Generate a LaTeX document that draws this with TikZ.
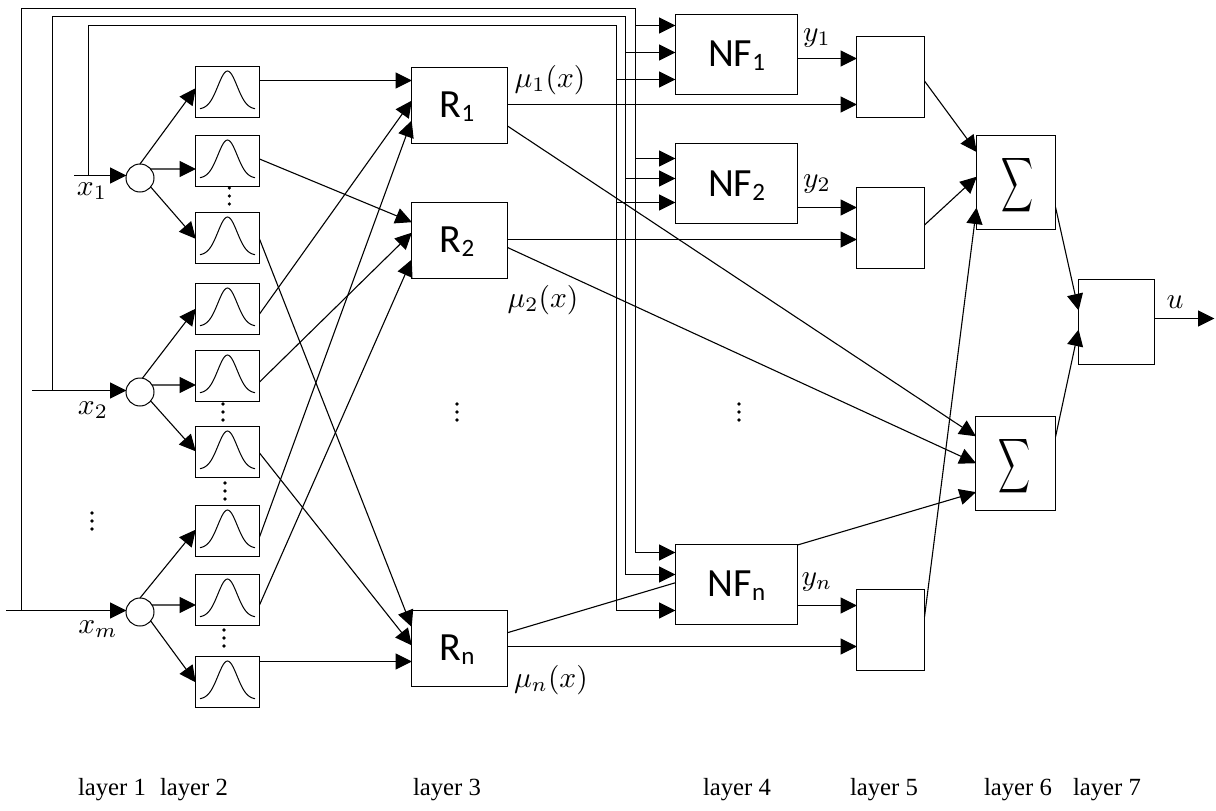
\documentclass[tikz,border=0pt]{standalone}
\usepackage{fontspec}
\setsansfont{Carlito}
\setmainfont{Liberation Serif}
\usetikzlibrary{arrows.meta}
\newcommand{\lsub}[1]{\raisebox{-0.1em}{\fontsize{25}{25}\selectfont #1}}
\newcommand{\boxtext}[2]{\raisebox{#1}[0pt][0pt]{#2}}
\newcommand{\vdotsat}[2]{\foreach \dd in {0,8,16}{\fill (#1,#2+\dd) circle (1.8);}}
\newcommand{\bigsum}{\boxtext{-12.5pt}{\resizebox{32pt}{40pt}{$\displaystyle\sum$}}}
\newcommand{\mlab}[1]{\scalebox{2.95}{$#1$}}
\tikzset{
  x=1pt,y=-1pt,
  wire/.style={line width=1.1pt},
  arr/.style={wire,-{Triangle[length=16.5pt,width=16pt]},shorten >=-0.5pt},
  rarr/.style={wire,{Triangle[length=16.5pt,width=16pt]}-},
  boxn/.style={draw,line width=1.1pt,rectangle,inner sep=0pt,outer sep=0pt},
  mfbox/.style={boxn,minimum width=64pt,minimum height=51pt},
  rbox/.style={boxn,minimum width=96pt,minimum height=76pt,font=\sffamily\fontsize{40}{40}\selectfont},
  nfbox/.style={boxn,minimum width=122pt,minimum height=80pt,font=\sffamily\fontsize{40}{40}\selectfont},
  pbox/.style={boxn,minimum width=68pt,minimum height=81pt},
  sumbox/.style={boxn,minimum width=79pt,minimum height=94pt},
  ubox/.style={boxn,minimum width=76pt,minimum height=85pt},
  split/.style={draw,line width=1pt,circle,minimum size=28pt,inner sep=0pt,outer sep=0pt},
  mlabel/.style={inner sep=0pt},
  laylabel/.style={inner sep=0pt,anchor=base,font=\rmfamily\fontsize{24.7}{24.7}\selectfont},
}
\begin{document}
\begin{tikzpicture}
\useasboundingbox (0,0) rectangle (1216,811);
% membership boxes
\foreach \nm/\yy in {g1/92,g2/161,g3/238,g4/309,g5/376,g6/452,g7/531,g8/600,g9/682}{
  \node[mfbox] (\nm) at (227.5,\yy) {};
  \draw[line width=1pt,smooth,samples=41,domain=-27.5:27.5,shift={(227.5,\yy)}]
    plot (\x,{17.3-38.3*exp(-(\x*\x)/(2*9.6*9.6))});
}
% splitters
\node[split] (c1) at (140,178) {};
\node[split] (c2) at (140,392) {};
\node[split] (c3) at (140,612) {};
% rule boxes
\node[rbox] (R1) at (459.5,105.5) {\boxtext{-11.5pt}{\kern-5pt R\lsub{1}}};
\node[rbox] (R2) at (459.5,240.5) {\boxtext{-11.5pt}{\kern-5pt R\lsub{2}}};
\node[rbox] (Rn) at (459.5,648.5) {\boxtext{-11.5pt}{\kern-5pt R\lsub{n}}};
% NF boxes
\node[nfbox] (NF1) at (736.5,54.5) {\boxtext{-12pt}{NF\lsub{1}}};
\node[nfbox] (NF2) at (736.5,183.5) {\boxtext{-13pt}{NF\lsub{2}}};
\node[nfbox] (NFn) at (736.5,584.5) {\boxtext{-12pt}{NF\lsub{n}}};
% product boxes
\node[pbox] (P1) at (890.5,77) {};
\node[pbox] (P2) at (890.5,228) {};
\node[pbox] (Pn) at (890.5,630) {};
% sum boxes
\node[sumbox] (S1) at (1016,182.5) {\kern3pt\bigsum};
\node[sumbox,minimum width=80pt] (S2) at (1015.5,463.5) {\kern-3pt\bigsum};
\node[ubox] (U) at (1116.5,322) {};
% free ends
\coordinate (in1) at (74,175.5);
\coordinate (in2) at (32,390.5);
\coordinate (in3) at (6,610.5);
\coordinate (t1) at (88.5,175.5);
\coordinate (t2) at (52.5,390.5);
\coordinate (t3) at (21.5,610.5);
\coordinate (b1) at (616.5,25.5);
\coordinate (b2) at (625.5,16.5);
\coordinate (b3) at (635.5,8.5);
\coordinate (out) at (1214,318.5);
% inputs
\draw[arr] (in1) -- ([yshift=2.5pt]c1.west);
\draw[arr] (in2) -- ([yshift=1.5pt]c2.west);
\draw[arr] (in3) -- ([yshift=1.5pt]c3.west);
% feedback buses
\draw[wire] (t1) |- (b1);
\draw[wire] (t2) |- (b2);
\draw[wire] (t3) |- (b3);
\draw[rarr] ([yshift=29pt]NF1.west) -| (b3);
\draw[rarr] ([yshift=2pt]NF1.west) -| (b2);
\draw[rarr] ([yshift=-25pt]NF1.west) -| (b1);
\draw[rarr] ([yshift=25pt]NF2.west) -| (b3);
\draw[rarr] ([yshift=5pt]NF2.west) -| (b2);
\draw[rarr] ([yshift=-19pt]NF2.west) -| (b1);
\draw[rarr] ([yshift=32pt]NFn.west) -| (b3);
\draw[rarr] ([yshift=10pt]NFn.west) -| (b2);
\draw[rarr] ([yshift=-26pt]NFn.west) -| (b1);
% splitter to membership
\draw[arr] (c1.north) -- ([yshift=3.5pt]g1.west);
\draw[arr] (c1.40) -- ([yshift=-8pt]g2.west);
\draw[arr] (c1.-40) -- ([yshift=-0.5pt]g3.west);
\draw[arr] (c2.80) -- (g4.west);
\draw[arr] (c2.30) -- ([yshift=-9pt]g5.west);
\draw[arr] (c2.-40) -- ([yshift=1pt]g6.west);
\draw[arr] (c3.north) -- ([yshift=1pt]g7.west);
\draw[arr] (c3.30) -- ([yshift=-5pt]g8.west);
\draw[arr] (c3.-40) -- (g9.west);
% membership to rules
\draw[arr] ([yshift=11.5pt]g1.east) -- ([yshift=25pt]R1.west);
\draw[arr] ([yshift=2pt]g2.east) -- ([yshift=18.5pt]R2.west);
\draw[arr] ([yshift=-1pt]g3.east) -- ([yshift=22pt]Rn.west);
\draw[arr] ([yshift=-5pt]g4.east) -- ([yshift=4.5pt]R1.west);
\draw[arr] ([yshift=-6pt]g5.east) -- ([yshift=7.5pt]R2.west);
\draw[arr] ([yshift=-1pt]g6.east) -- ([yshift=3.5pt]Rn.west);
\draw[arr] ([yshift=-6pt]g7.east) -- ([yshift=-15.5pt]R1.west);
\draw[arr] ([yshift=-5pt]g8.east) -- ([yshift=-19.5pt]R2.west);
\draw[arr] ([yshift=20.5pt]g9.east) -- ([yshift=-13pt]Rn.west);
% rules onwards
\draw[arr] ([yshift=1pt]R1.east) -- ([yshift=-27.5pt]P1.west);
\draw[arr] ([yshift=-20.5pt]R1.east) -- ([yshift=27.5pt]S2.west);
\draw[arr] ([yshift=1pt]R2.east) -- ([yshift=-11.5pt]P2.west);
\draw[arr] ([yshift=-7pt]R2.east) -- ([yshift=0.5pt]S2.west);
\draw[wire] ([yshift=15.8pt]Rn.east) -- ([yshift=1.8pt]NFn.west);
\draw[arr] ([yshift=39.5pt]NFn.east) -- ([yshift=-28.8pt]S2.west);
\draw[arr] ([yshift=2pt]Rn.east) -- ([yshift=-16.5pt]Pn.west);
% NF to products
\draw[arr] ([yshift=-4pt]NF1.east) -- ([yshift=18.5pt]P1.west);
\draw[arr] ([yshift=-24pt]NF2.east) -- ([yshift=20.5pt]P2.west);
\draw[arr] ([yshift=-21pt]NFn.east) -- ([yshift=24.5pt]Pn.west);
% products to sums
\draw[arr] ([yshift=-4pt]P1.east) -- ([yshift=30.8pt]S1.west);
\draw[arr] ([yshift=3pt]P2.east) -- ([yshift=5.5pt]S1.west);
\draw[arr] ([yshift=13pt]Pn.east) -- ([yshift=-25.5pt]S1.west);
% sums to output
\draw[arr] ([yshift=-24.5pt]S1.east) -- ([yshift=12pt]U.west);
\draw[arr] ([yshift=26.5pt]S2.east) -- ([yshift=-8pt]U.west);
\draw[arr] ([yshift=3.5pt]U.east) -- (out);
% math labels
\node[mlabel] (lx1) at (92,191) {\mlab{x_1}};
\node[mlabel] (lx2) at (93,410) {\mlab{x_2}};
\node[mlabel] (lxm) at (98,629) {\mlab{x_m}};
\node[mlabel] (lm1) at (550,80) {\mlab{\mu_1(x)}};
\node[mlabel] (lm2) at (543,300) {\mlab{\mu_2(x)}};
\node[mlabel] (lmn) at (551,680) {\mlab{\mu_n(x)}};
\node[mlabel] (ly1) at (817,38) {\mlab{y_1}};
\node[mlabel] (ly2) at (817,184) {\mlab{y_2}};
\node[mlabel] (lyn) at (817,582) {\mlab{y_n}};
\node[mlabel] (lu) at (1175,302) {\mlab{u}};
% ellipses
\vdotsat{229.3}{188}
\vdotsat{223}{404}
\vdotsat{225}{483}
\vdotsat{224}{630}
\vdotsat{92}{513}
\vdotsat{457}{404}
\vdotsat{739}{404}
% layer labels
\node[laylabel] (l1) at (112,795) {layer 1};
\node[laylabel] (l2) at (194,795) {layer 2};
\node[laylabel] (l3) at (447,795) {layer 3};
\node[laylabel] (l4) at (737,795) {layer 4};
\node[laylabel] (l5) at (884,795) {layer 5};
\node[laylabel] (l6) at (1018,795) {layer 6};
\node[laylabel] (l7) at (1107,795) {layer 7};
\end{tikzpicture}
\end{document}
